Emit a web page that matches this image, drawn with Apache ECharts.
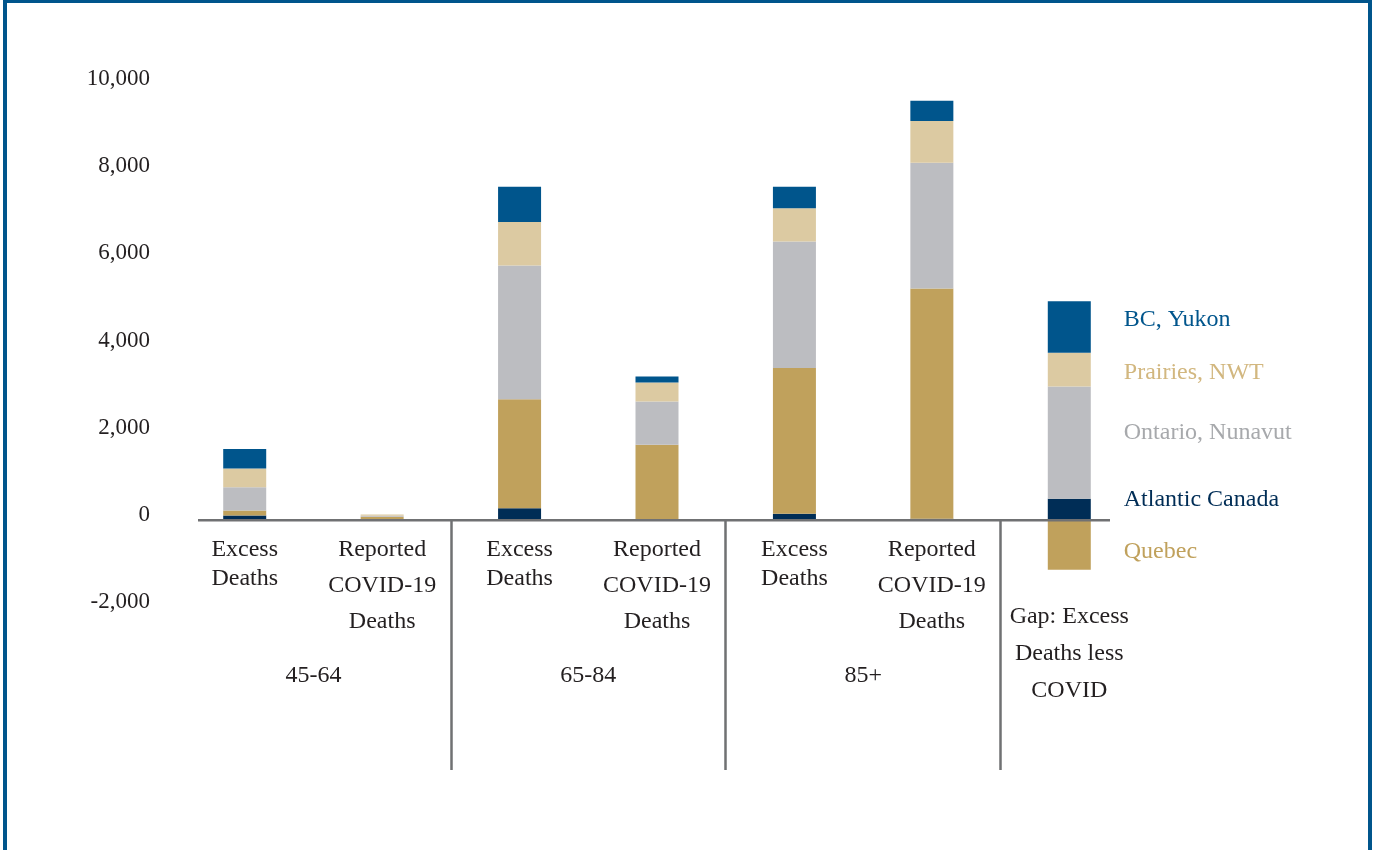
<!DOCTYPE html>
<html>
<head>
<meta charset="utf-8">
<script src="https://cdn.jsdelivr.net/npm/echarts@6/dist/echarts.min.js"></script>
<style>
html, body { margin: 0; padding: 0; background: #fff; overflow: hidden; }
#chart { position: absolute; left: 0; top: 0; width: 1373px; height: 850px; }
#frame { position: absolute; left: 3px; top: -1px; width: 1369px; height: 900px; border: 4px solid #00558c; box-sizing: border-box; pointer-events: none; }
</style>
</head>
<body>
<div id="chart"></div>
<div id="frame"></div>
<script>
// categories (bar labels) and age groups
var categories = ['Excess\nDeaths', 'Reported\nCOVID-19\nDeaths', 'Excess\nDeaths', 'Reported\nCOVID-19\nDeaths', 'Excess\nDeaths', 'Reported\nCOVID-19\nDeaths', 'Gap: Excess\nDeaths less\nCOVID'];
var groups = ['', '45-64', '', '65-84', '', '85+', '', ''];
var yTicks = [-2000, 10000, 2000]; // min, max, interval

// series values
var atlantic = [100, 5, 268, 10, 138, 25, 482];
var quebec = [115, 65, 2501, 1711, 3343, 5285, -1147];
var ontario = [530, 25, 3066, 994, 2905, 2884, 2577];
var prairies = [430, 25, 996, 436, 766, 957, 773];
var bc = [452, 5, 810, 138, 489, 466, 1186];

var FONT = 'Liberation Serif';
var INK = '#231f20';
var RULE = '#707173';

var chart = echarts.init(document.getElementById('chart'));

//系列样式
var seriesDefs = [
	{ name: 'Atlantic Canada', data: atlantic, color: '#002d56', text: '#002d56', dy: -10 },
	{ name: 'Quebec', data: quebec, color: '#c0a15c', text: '#c0a15c', dy: 7 },
	{ name: 'Ontario, Nunavut', data: ontario, color: '#bcbdc1', text: '#a7a9ac', dy: -10 },
	{ name: 'Prairies, NWT', data: prairies, color: '#dccaa2', text: '#d2b77f', dy: 3 },
	{ name: 'BC, Yukon', data: bc, color: '#00558c', text: '#00558c', dy: -7 }
];

var series = seriesDefs.map(function (d) {
	var last = d.data.length - 1;
	return {
		name: d.name,
		type: 'bar',
		stack: 'total',
		barWidth: 43,
		xAxisIndex: 0,
		yAxisIndex: 0,
		itemStyle: { color: d.color },
		label: { show: false },
		data: d.data.map(function (v, i) {
			if (i !== last) return v;
			//最后一根柱子右侧的标签（充当图例）
			return {
				value: v,
				label: {
					show: true,
					position: 'right',
					distance: 33,
					offset: [0, d.dy],
					formatter: '{a}',
					color: d.text,
					fontFamily: FONT,
					fontSize: 24
				}
			};
		})
	};
});

var option = {
	animation: false,
	backgroundColor: '#fff',
	//grid 0 画柱子；grid 1 底边在 0 线上，只放类目标签和分隔线
	grid: [
		{ left: 176, width: 962, top: 84, bottom: 243 },
		{ left: 176, width: 962, top: 84, bottom: 330 }
	],
	xAxis: [
		{
			type: 'category',
			gridIndex: 0,
			data: categories,
			axisLine: { show: false },
			axisTick: { show: false },
			axisLabel: { show: false }
		},
		{
			type: 'category',
			gridIndex: 1,
			position: 'bottom',
			data: categories,
			axisLine: { show: false },
			axisTick: { show: false },
			axisLabel: {
				interval: 0,
				margin: 12,
				formatter: function (value) {
					var lines = value.split('\n');
					if (value.indexOf('Gap') === 0) {
						return '{g| }\n' + lines.map(function (l) { return '{c|' + l + '}'; }).join('\n');
					}
					if (value.indexOf('Excess') === 0) {
						return '{s| }\n' + lines.map(function (l) { return '{a|' + l + '}'; }).join('\n');
					}
					return lines.map(function (l) { return '{b|' + l + '}'; }).join('\n');
				},
				rich: {
					a: { fontFamily: FONT, fontSize: 24, lineHeight: 29, color: INK },
					b: { fontFamily: FONT, fontSize: 24, lineHeight: 36, color: INK },
					c: { fontFamily: FONT, fontSize: 24, lineHeight: 37, color: INK },
					s: { fontSize: 1, lineHeight: 3 },
					g: { fontSize: 1, lineHeight: 66 }
				}
			}
		},
		{
			//年龄组 + 分隔线
			type: 'category',
			gridIndex: 1,
			position: 'bottom',
			boundaryGap: false,
			data: groups,
			axisLine: { show: false },
			axisTick: {
				show: true,
				interval: function (index) { return index === 2 || index === 4 || index === 6; },
				length: 250,
				lineStyle: { color: RULE, width: 2.5 }
			},
			axisLabel: {
				interval: 0,
				margin: 144,
				fontFamily: FONT,
				fontSize: 24,
				color: INK
			},
			splitLine: { show: false }
		}
	],
	yAxis: [
		{
			type: 'value',
			gridIndex: 0,
			min: yTicks[0],
			max: yTicks[1],
			interval: yTicks[2],
			axisLine: { show: false },
			axisTick: { show: false },
			splitLine: { show: false },
			axisLabel: {
				margin: 26,
				formatter: function (v) { return '{v|' + v.toLocaleString('en-US') + '}\n{s| }'; },
				rich: {
					v: { fontFamily: FONT, fontSize: 23, color: INK, align: 'right' },
					s: { fontSize: 1, lineHeight: 10 }
				}
			}
		},
		{
			type: 'value',
			gridIndex: 1,
			min: 0,
			max: 1,
			show: false
		}
	],
	series: series
};

chart.setOption(option);

// 横轴线（只画在柱子范围内）
var y0 = chart.convertToPixel({ yAxisIndex: 0 }, 0);
chart.setOption({
	graphic: [{
		type: 'line',
		z: 10,
		shape: { x1: 198, y1: y0 + 0.5, x2: 1110, y2: y0 + 0.5 },
		style: { stroke: RULE, lineWidth: 2.5 }
	}]
});
</script>
</body>
</html>
